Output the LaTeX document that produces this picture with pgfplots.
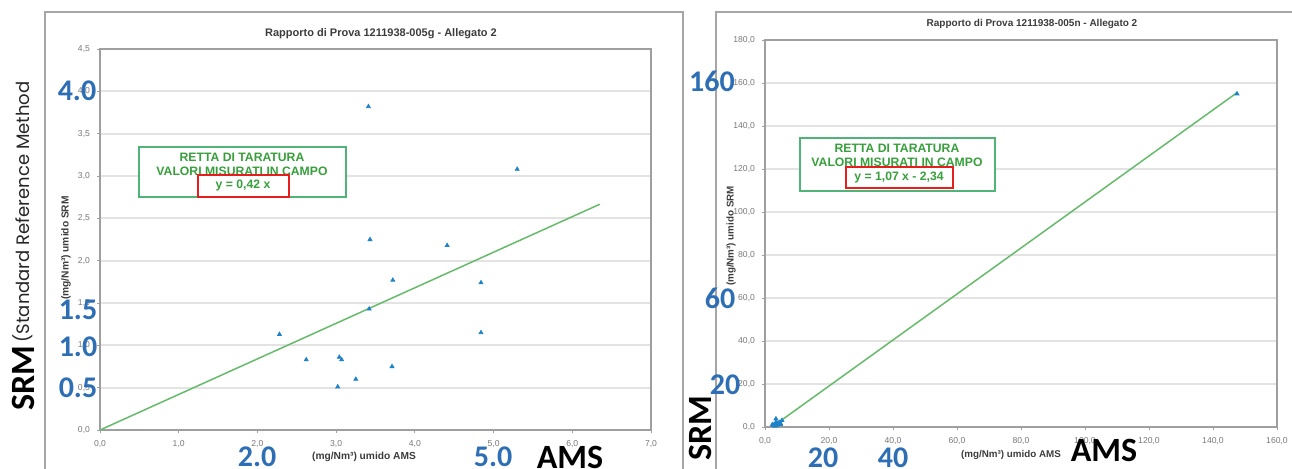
\documentclass[border=0pt]{standalone}
\usepackage{pgfplots}
\usepackage{pgfplotstable}
\pgfplotsset{compat=1.18}
\usepackage{fontspec}
\setmainfont{Liberation Sans}
\newfontfamily\calib{Carlito}
\newfontfamily\geo{Poppins}
\definecolor{lgreen}{RGB}{102,187,106}
\definecolor{boxgreen}{RGB}{80,180,120}
\definecolor{txtgreen}{RGB}{55,160,60}
\definecolor{mred}{RGB}{230,30,30}
\definecolor{mblue}{RGB}{30,130,200}
\definecolor{lblue}{RGB}{46,110,181}
\definecolor{tickgray}{RGB}{120,120,120}
\definecolor{titlegray}{RGB}{60,60,60}
\pgfplotstableread{
x y
3.41 3.82
5.30 3.08
3.43 2.25
4.41 2.18
3.72 1.77
4.84 1.74
3.42 1.43
4.84 1.15
2.28 1.13
2.62 0.83
3.04 0.86
3.07 0.83
3.71 0.75
3.25 0.60
3.02 0.51
}\leftdata
\pgfplotstableread{
x y
3.41 3.82
5.30 3.08
3.43 2.25
4.41 2.18
3.72 1.77
4.84 1.74
3.42 1.43
4.84 1.15
2.28 1.13
2.62 0.83
3.04 0.86
3.07 0.83
3.71 0.75
3.25 0.60
3.02 0.51
147.5 155.0
}\rightdata
\pgfplotsset{
  excel/.style={
    scale only axis,
    axis line style={draw=gray!75, line width=0.6pt},
    ymajorgrids, major grid style={gray!22, line width=1pt},
    tick align=outside, major tick length=1.5pt,
    xtick pos=bottom, ytick pos=left,
    tick style={gray!75, line width=0.4pt},
    tick label style={font=\fontsize{4.3}{5}\selectfont, text=tickgray},
    /pgf/number format/.cd, use comma, fixed, fixed zerofill, precision=1, assume math mode=true,
  }
}
\begin{document}
\begin{tikzpicture}
\path[use as bounding box] (0pt,0pt) rectangle (646pt,234pt);
\begin{axis}[excel, at={(50pt,19pt)}, anchor=south west, width=275.5pt, height=190.5pt,
  xmin=0, xmax=7, ymin=0, ymax=4.5, xtick={0,1,2,3,4,5,6,7}, ytick={0,0.5,1,1.5,2,2.5,3,3.5,4,4.5}]
\addplot[lgreen, line width=0.75pt] coordinates {(0,0) (6.35,2.667)};
\addplot[only marks, mark=triangle*, mark size=1.1pt, mblue] table {\leftdata};
\end{axis}
\begin{axis}[excel, at={(382.5pt,20.5pt)}, anchor=south west, width=256pt, height=193.5pt,
  xmin=0, xmax=160, ymin=0, ymax=180, xtick={0,20,...,160}, ytick={0,20,...,180}]
\addplot[lgreen, line width=0.75pt] coordinates {(2.19,0) (147.5,155.5)};
\addplot[only marks, mark=triangle*, mark size=1.1pt, mblue] table {\rightdata};
\end{axis}
\begin{scope}[x=0.5pt, y=-0.5pt, shift={(0pt,234pt)}]
% frames
\draw[gray!70, line width=0.6pt] (45,480) -- (45,12) -- (683,12) -- (683,480);
\draw[gray!70, line width=0.6pt] (716,480) -- (716,12) -- (1300,12);
% titles
\node[font=\bfseries\fontsize{5.5}{6}\selectfont, text=titlegray] at (381,34) {Rapporto di Prova 1211938-005g - Allegato 2};
\node[font=\bfseries\fontsize{5}{6}\selectfont, text=titlegray] at (1032,24) {Rapporto di Prova 1211938-005n - Allegato 2};
% axis titles
\node[font=\bfseries\fontsize{5.1}{5}\selectfont, text=titlegray] at (364,457) {(mg/Nm³) umido AMS};
\node[font=\bfseries\fontsize{5.1}{5}\selectfont, text=titlegray, rotate=90] at (66,248) {(mg/Nm³) umido SRM};
\node[font=\bfseries\fontsize{4.9}{5}\selectfont, text=titlegray] at (1011,455) {(mg/Nm³) umido AMS};
\node[font=\bfseries\fontsize{4.9}{5}\selectfont, text=titlegray, rotate=90] at (731,236) {(mg/Nm³) umido SRM};
% green boxes left
\draw[boxgreen, line width=0.7pt, fill=white] (139,147) rectangle (346,197);
\node[font=\bfseries\fontsize{6.1}{6}\selectfont, text=txtgreen] at (242,157) {RETTA DI TARATURA};
\node[font=\bfseries\fontsize{6.1}{6}\selectfont, text=txtgreen] at (242,171) {VALORI MISURATI IN CAMPO};
\draw[mred, line width=0.9pt] (198,175) rectangle (289,197);
\node[font=\bfseries\fontsize{6.1}{6}\selectfont, text=txtgreen] at (243,186) {y = 0,42 x};
% green boxes right
\draw[boxgreen, line width=0.7pt, fill=white] (800,138) rectangle (995,191);
\node[font=\bfseries\fontsize{6.1}{6}\selectfont, text=txtgreen] at (897,148) {RETTA DI TARATURA};
\node[font=\bfseries\fontsize{6.1}{6}\selectfont, text=txtgreen] at (897,162) {VALORI MISURATI IN CAMPO};
\draw[mred, line width=0.9pt] (846,167) rectangle (953,188);
\node[font=\bfseries\fontsize{6.1}{6}\selectfont, text=txtgreen] at (899,178) {y = 1,07 x - 2,34};
% big blue labels
\begin{scope}[every node/.style={font=\calib\bfseries\fontsize{15}{15}\selectfont, text=lblue}]
\node at (77,91) {4.0};
\node at (78,310) {1.5};
\node at (78,347) {1.0};
\node at (78,388) {0.5};
\node at (257,457) {2.0};
\node at (493,457) {5.0};
\node at (712,81) {160};
\node at (720,298) {60};
\node at (725,385) {20};
\node at (823,458) {20};
\node at (893,458) {40};
\end{scope}
\node[font=\calib\bfseries\fontsize{17}{17}\selectfont, text=black] at (570,457) {AMS};
\node[font=\calib\bfseries\fontsize{17}{17}\selectfont, text=black] at (1104,450) {AMS};
\node[font=\calib\bfseries\fontsize{17}{17}\selectfont, text=black, rotate=90] at (700,428) {SRM};
\node[font=\calib\bfseries\fontsize{17}{17}\selectfont, text=black, rotate=90] at (23,378) {SRM};
\node[font=\geo\fontsize{9}{9}\selectfont, text=black!85, rotate=90] at (23,212) {(Standard Reference Method};
\end{scope}
\end{tikzpicture}
\end{document}
